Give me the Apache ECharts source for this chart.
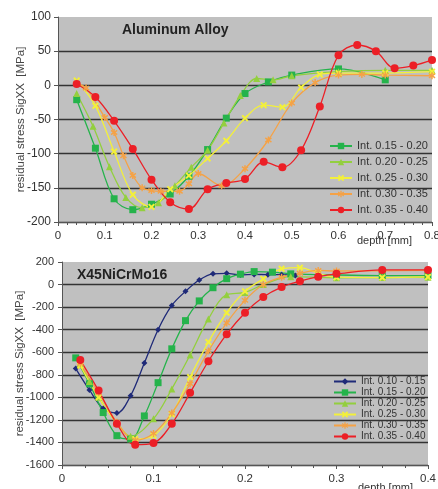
<!DOCTYPE html>
<html>
<head>
<meta charset="utf-8">
<script src="https://cdn.jsdelivr.net/npm/echarts@6/dist/echarts.min.js"></script>
<style>
  html, body { margin: 0; padding: 0; background: #fff; }
  #chart { width: 438px; height: 489px; }
</style>
</head>
<body>
<div id="chart"></div>
<script>
// Aluminum Alloy (top)
var alNames = ['Int. 0.15 - 0.20', 'Int. 0.20 - 0.25', 'Int. 0.25 - 0.30', 'Int. 0.30 - 0.35', 'Int. 0.35 - 0.40'];
var alDepth1 = [0.04, 0.08, 0.12, 0.16, 0.20, 0.24, 0.28, 0.32, 0.36, 0.40, 0.45, 0.50, 0.60, 0.70];
var alStress1 = [-21, -92, -166, -182, -174, -159, -133, -94, -48, -12, 5, 15, 24, 8];
var alDepth2 = [0.04, 0.075, 0.11, 0.145, 0.18, 0.215, 0.25, 0.285, 0.32, 0.355, 0.39, 0.425, 0.46, 0.50, 0.60, 0.70, 0.80];
var alStress2 = [-12, -60, -119, -164, -179, -172, -147, -120, -95, -55, -15, 10, 8, 14, 20, 22, 22];
var alDepth3 = [0.04, 0.08, 0.12, 0.16, 0.20, 0.24, 0.28, 0.32, 0.36, 0.40, 0.44, 0.48, 0.52, 0.56, 0.60, 0.70, 0.80];
var alStress3 = [7, -30, -97, -160, -178, -152, -132, -107, -81, -48, -29, -32, -3, 16, 18, 18, 20];
var alDepth4 = [0.04, 0.06, 0.10, 0.12, 0.14, 0.16, 0.18, 0.20, 0.22, 0.26, 0.28, 0.30, 0.35, 0.40, 0.45, 0.50, 0.55, 0.60, 0.65, 0.70, 0.80];
var alStress4 = [3, -4, -47, -69, -103, -132, -150, -154, -155, -155, -144, -129, -147, -122, -80, -26, 4, 15, 16, 15, 14];
var alDepth5 = [0.04, 0.08, 0.12, 0.16, 0.20, 0.24, 0.28, 0.32, 0.36, 0.40, 0.44, 0.48, 0.52, 0.56, 0.60, 0.64, 0.68, 0.72, 0.76, 0.80];
var alStress5 = [2, -17, -52, -93, -138, -171, -181, -152, -143, -137, -112, -120, -95, -31, 44, 59, 50, 25, 29, 37];

// X45NiCrMo16 (bottom)
var xnNames = ['Int. 0.10 - 0.15', 'Int. 0.15 - 0.20', 'Int. 0.20 - 0.25', 'Int. 0.25 - 0.30', 'Int. 0.30 - 0.35', 'Int. 0.35 - 0.40'];
var xnDepth1 = [0.015, 0.03, 0.045, 0.06, 0.075, 0.09, 0.105, 0.12, 0.135, 0.15, 0.165, 0.18, 0.195, 0.21, 0.225, 0.24, 0.255];
var xnStress1 = [-745, -935, -1100, -1140, -985, -695, -400, -185, -60, 40, 95, 100, 85, 90, 88, 88, 80];
var xnDepth2 = [0.015, 0.03, 0.045, 0.06, 0.075, 0.09, 0.105, 0.12, 0.135, 0.15, 0.165, 0.18, 0.195, 0.21, 0.23, 0.25, 0.30, 0.35, 0.40];
var xnStress2 = [-650, -880, -1135, -1340, -1370, -1165, -870, -570, -320, -145, -28, 52, 92, 115, 110, 95, 85, 80, 80];
var xnDepth3 = [0.02, 0.03, 0.04, 0.06, 0.075, 0.10, 0.12, 0.14, 0.16, 0.18, 0.20, 0.22, 0.25, 0.30, 0.35, 0.40];
var xnStress3 = [-700, -860, -1000, -1230, -1345, -1190, -925, -625, -305, -90, -70, 0, 70, 60, 62, 65];
var xnDepth4 = [0.02, 0.04, 0.06, 0.08, 0.10, 0.12, 0.14, 0.16, 0.18, 0.20, 0.22, 0.24, 0.26, 0.28, 0.30, 0.35, 0.40];
var xnStress4 = [-720, -1000, -1230, -1370, -1340, -1150, -820, -510, -250, -60, 50, 140, 150, 100, 65, 62, 68];
var xnStress5 = [-700, -960, -1220, -1380, -1320, -1140, -880, -590, -340, -140, 0, 65, 100, 125, 120, 122, 125];
var xnStress6 = [-670, -940, -1235, -1420, -1405, -1235, -960, -680, -440, -250, -110, -22, 30, 70, 95, 130, 130];

var cGreen = '#25b34b', cLight = '#93cf3e', cYellow = '#f3f03a', cOrange = '#f5a246', cRed = '#ec1f26', cNavy = '#1f2a78';
var xMark = 'path://M0,2L2,0L5,3L8,0L10,2L7,5L10,8L8,10L5,7L2,10L0,8L3,5Z';
var starMark = 'path://M4,0H6V3.3L8.6,1.2L9.8,2.8L7,5L9.8,7.2L8.6,8.8L6,6.7V10H4V6.7L1.4,8.8L0.2,7.2L3,5L0.2,2.8L1.4,1.2L4,3.3Z';

function zip(xs, ys) {
  return xs.map(function (x, i) { return [x, ys[i]]; });
}

function line(name, xs, ys, color, symbol, size, idx) {
  return {
    name: name, type: 'line', xAxisIndex: idx, yAxisIndex: idx,
    data: zip(xs, ys), smooth: 0.35, symbol: symbol, symbolSize: size,
    lineStyle: { color: color, width: 1.3 },
    itemStyle: { color: color, borderWidth: 0 },
    emphasis: { disabled: true }
  };
}

var plain = function (v) { return String(v); };
var xLbl = { color: '#333', fontSize: 11.5, formatter: plain };
var split = { show: true, showMaxLine: false, lineStyle: { color: '#333', width: 1.3 } };
var axLine = { show: true, onZero: false, lineStyle: { color: '#555' } };
var tick = { show: true, length: 4, lineStyle: { color: '#555' } };

var chart = echarts.init(document.getElementById('chart'));
chart.setOption({
  animation: false,
  textStyle: { fontFamily: 'Liberation Sans, Arial' },
  title: [
    { text: 'Aluminum Alloy', left: 122, top: 23, padding: 0,
      textStyle: { fontSize: 14, fontWeight: 'bold', color: '#222' } },
    { text: 'X45NiCrMo16', left: 77, top: 268, padding: 0,
      textStyle: { fontSize: 14, fontWeight: 'bold', color: '#222' } }
  ],
  legend: [
    { data: alNames, orient: 'vertical', left: 329, top: 139, itemGap: 2,
      itemWidth: 22, itemHeight: 8, padding: 0,
      textStyle: { fontSize: 11, color: '#333', lineHeight: 14 } },
    { data: xnNames, orient: 'vertical', left: 333, top: 376, itemGap: 0,
      itemWidth: 22, itemHeight: 8, padding: 0,
      textStyle: { fontSize: 10, color: '#333', lineHeight: 11 } }
  ],
  grid: [
    { left: 58, right: 6, top: 17, bottom: 267, show: true, backgroundColor: '#c0c0c0', borderWidth: 0,
      containLabel: false, outerBoundsMode: 'none' },
    { left: 62, right: 10, top: 262, bottom: 24, show: true, backgroundColor: '#c0c0c0', borderWidth: 0,
      containLabel: false, outerBoundsMode: 'none' }
  ],
  xAxis: [
    { type: 'value', gridIndex: 0, min: 0, max: 0.8, interval: 0.1,
      name: 'depth [mm]', nameLocation: 'end', nameGap: -75, nameMoveOverlap: false,
      nameTextStyle: { fontSize: 11, color: '#333', verticalAlign: 'top', padding: [13, 0, 0, 0] },
      axisLine: axLine, axisTick: tick,
      minorTick: { show: true, splitNumber: 5, length: 3, lineStyle: { color: '#555' } },
      splitLine: { show: false }, axisLabel: xLbl },
    { type: 'value', gridIndex: 1, min: 0, max: 0.4, interval: 0.1,
      name: 'depth [mm]', nameLocation: 'end', nameGap: -70, nameMoveOverlap: false,
      nameTextStyle: { fontSize: 11, color: '#333', verticalAlign: 'top', padding: [17, 0, 0, 0] },
      axisLine: axLine, axisTick: tick,
      minorTick: { show: true, splitNumber: 4, length: 3, lineStyle: { color: '#555' } },
      splitLine: { show: false }, axisLabel: xLbl }
  ],
  yAxis: [
    { type: 'value', gridIndex: 0, min: -200, max: 100, interval: 50,
      name: 'residual stress SigXX  [MPa]', nameLocation: 'middle', nameGap: 31, nameMoveOverlap: false,
      nameTextStyle: { fontSize: 11.5, color: '#444' },
      axisLine: axLine, axisTick: tick, splitLine: split,
      axisLabel: { color: '#333', fontSize: 12, margin: 7, formatter: plain } },
    { type: 'value', gridIndex: 1, min: -1600, max: 200, interval: 200,
      name: 'residual stress SigXX  [MPa]', nameLocation: 'middle', nameGap: 36, nameMoveOverlap: false,
      nameTextStyle: { fontSize: 11.5, color: '#444' },
      axisLine: axLine, axisTick: tick, splitLine: split,
      axisLabel: { color: '#333', fontSize: 11, margin: 8, formatter: plain } }
  ],
  series: [
    line(alNames[0], alDepth1, alStress1, cGreen, 'rect', 7, 0),
    line(alNames[1], alDepth2, alStress2, cLight, 'triangle', 7, 0),
    line(alNames[2], alDepth3, alStress3, cYellow, xMark, 7, 0),
    line(alNames[3], alDepth4, alStress4, cOrange, starMark, 7, 0),
    line(alNames[4], alDepth5, alStress5, cRed, 'circle', 8, 0),
    line(xnNames[0], xnDepth1, xnStress1, cNavy, 'diamond', 6, 1),
    line(xnNames[1], xnDepth2, xnStress2, cGreen, 'rect', 7, 1),
    line(xnNames[2], xnDepth3, xnStress3, cLight, 'triangle', 7, 1),
    line(xnNames[3], xnDepth4, xnStress4, cYellow, xMark, 7, 1),
    line(xnNames[4], xnDepth4, xnStress5, cOrange, starMark, 7, 1),
    line(xnNames[5], xnDepth4, xnStress6, cRed, 'circle', 8, 1)
  ]
});
</script>
</body>
</html>
